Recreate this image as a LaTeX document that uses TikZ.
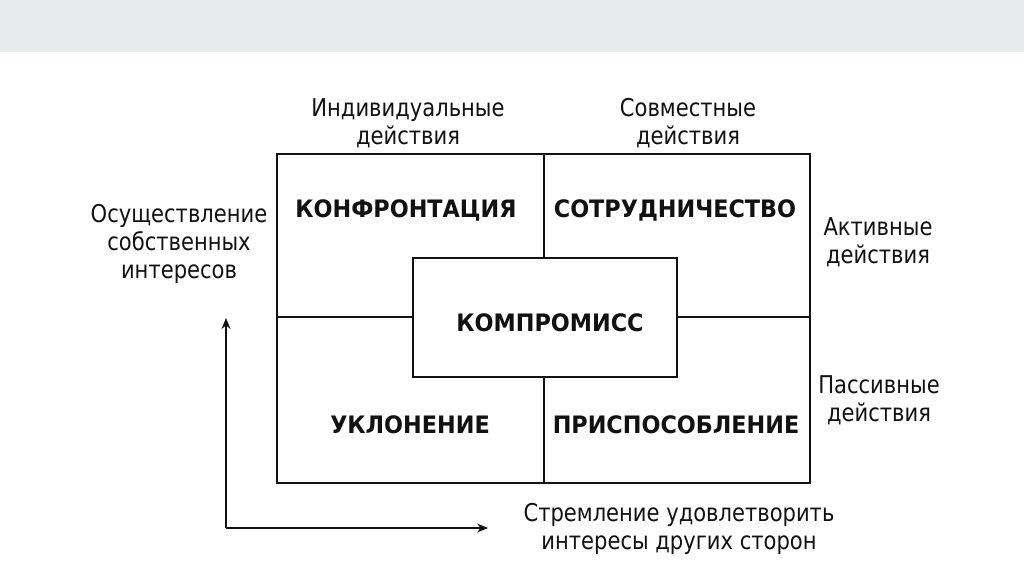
\documentclass[tikz,border=0pt]{standalone}
\usepackage{fontspec}
\setmainfont[FakeStretch=0.86]{DejaVu Sans}
\newfontfamily\kindfont[FakeStretch=0.93]{DejaVu Sans Bold}
\usetikzlibrary{arrows.meta,positioning}
\definecolor{band}{HTML}{E8EBEC}
\definecolor{ink}{HTML}{111111}
\tikzset{lbl/.style={align=center,inner sep=0pt,font=\fontsize{24.5}{28}\selectfont,text=ink},
  kind/.style={inner sep=0pt,font=\fontsize{24}{26}\kindfont,text=ink},
  frame/.style={draw=ink,line width=1.6pt},
  axis/.style={draw=ink,line width=1.4pt,-{Stealth[length=11pt,width=9pt]}}}
\begin{document}
\begin{tikzpicture}[x=1pt,y=-1pt]
\useasboundingbox (0,0) rectangle (1024,574);
\fill[white] (0,0) rectangle (1024,574);
\fill[band] (0,0) rectangle (1024,52);
% grid of four styles
\draw[frame] (277,154) rectangle (810,483);
\draw[frame] (544,154)--(544,483);
\draw[frame] (277,317)--(810,317);
\node[frame,fill=white,minimum width=264pt,minimum height=119pt,inner sep=0pt] (komp) at (545,317.5) {};
\node[kind] (kompt) at (550,323) {КОМПРОМИСС};
\node[kind] (konf) at (406,210) {КОНФРОНТАЦИЯ};
\node[kind] (sotr) at (675,210) {СОТРУДНИЧЕСТВО};
\node[kind] (ukl) at (410,425) {УКЛОНЕНИЕ};
\node[kind] (prisp) at (676,425) {ПРИСПОСОБЛЕНИЕ};
% side labels
\node[lbl] (indiv) at (408,123) {Индивидуальные\\действия};
\node[lbl] (sovm) at (688,123) {Совместные\\действия};
\node[lbl] (svoi) at (179,244) {Осуществление\\собственных\\интересов};
\node[lbl] (aktiv) at (878,242) {Активные\\действия};
\node[lbl] (pass) at (879,400) {Пассивные\\действия};
\node[lbl] (drug) at (679,529) {Стремление удовлетворить\\интересы других сторон};
% axes
\coordinate (o) at (226,528);
\coordinate (up) at (226,318);
\coordinate (right) at (488,528);
\draw[axis] (o)--(up);
\draw[axis] (o)--(right);
\end{tikzpicture}
\end{document}
